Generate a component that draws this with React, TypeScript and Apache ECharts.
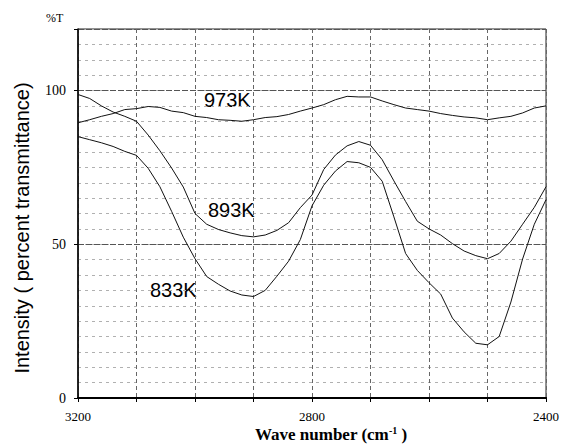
import React, { useEffect, useRef } from "react";
import * as echarts from "echarts";

const SERIF = '"Liberation Serif", "Times New Roman", serif';
const SANS = '"Liberation Sans", Arial, sans-serif';

// Wave numbers (cm^-1), every 20
const wavenumbers = [
  3200, 3180, 3160, 3140, 3120, 3100, 3080, 3060, 3040, 3020, 3000, 2980, 2960, 2940,
  2920, 2900, 2880, 2860, 2840, 2820, 2800, 2780, 2760, 2740, 2720, 2700, 2680, 2660,
  2640, 2620, 2600, 2580, 2560, 2540, 2520, 2500, 2480, 2460, 2440, 2420, 2400,
];

// %T values
const t973K = [
  89.5, 90.5, 91.6, 92.5, 93.8, 94.1, 94.8, 94.5, 93.3, 92.8, 91.6, 91.2, 90.5, 90.3,
  90.0, 90.5, 91.2, 91.5, 92.2, 93.3, 94.3, 95.4, 97.0, 98.1, 97.9, 97.9, 96.6, 95.4,
  94.3, 93.8, 93.3, 92.5, 91.9, 91.4, 91.1, 90.5, 91.1, 91.6, 92.7, 94.3, 95.0,
];
const t893K = [
  98.7, 97.4, 95.0, 93.0, 91.6, 90.0, 85.5, 80.4, 74.8, 68.6, 60.0, 56.5, 54.8, 53.7,
  52.8, 52.4, 53.0, 54.5, 57.0, 61.9, 66.0, 74.3, 79.0, 82.0, 83.4, 82.2, 77.5, 70.6,
  63.9, 57.5, 55.0, 53.0, 50.2, 47.8, 46.3, 45.3, 47.0, 51.0, 56.5, 62.0, 68.7,
];
const t833K = [
  85.0, 84.0, 83.0, 81.8, 80.2, 78.9, 74.7, 68.7, 60.7, 52.3, 45.3, 39.5, 37.0, 34.8,
  33.5, 33.0, 35.0, 39.6, 44.5, 51.5, 62.5, 69.2, 73.8, 76.9, 76.5, 75.0, 70.5, 58.9,
  47.0, 41.5, 37.5, 33.8, 26.0, 21.5, 17.8, 17.3, 20.0, 31.2, 45.2, 56.5, 64.5,
];

const xLabels = [3200, 2800, 2400];
const yLabels = [0, 50, 100];
const seriesNames = ["973K", "893K", "833K"];

export default function App() {
  const ref = useRef<HTMLDivElement>(null);

  useEffect(() => {
    if (!ref.current) return;
    const chart = echarts.init(ref.current, null, { renderer: "svg" });
    const toData = (vals: number[]) => wavenumbers.map((w, i) => [w, vals[i]]);
    const lineSeries = (name: string, vals: number[]) => ({
      name,
      type: "line",
      xAxisIndex: 0,
      yAxisIndex: 0,
      data: toData(vals),
      showSymbol: false,
      symbol: "none",
      lineStyle: { color: "#111", width: 1 },
      z: 5,
    });

    chart.setOption({
      animation: false,
      backgroundColor: "#fff",
      grid: {
        left: 78,
        right: 16,
        top: 29,
        bottom: 48,
        show: true,
        borderColor: "#222",
        borderWidth: 1,
        backgroundColor: "transparent",
      },
      xAxis: [
        {
          type: "value",
          min: 2400,
          max: 3200,
          interval: 100,
          inverse: true,
          axisLine: { show: true, onZero: false, lineStyle: { color: "#000", width: 2 } },
          axisTick: { show: true, length: 4, inside: false, lineStyle: { color: "#000", width: 1 } },
          axisLabel: {
            formatter: (v: number) => (xLabels.includes(v) ? String(v) : ""),
            fontFamily: SERIF,
            fontSize: 13,
            color: "#000",
            margin: 12,
            showMinLabel: true,
            showMaxLabel: true,
          },
          splitLine: { show: true, lineStyle: { color: "#666", type: [4, 3], width: 1 } },
        },
        {
          type: "value",
          position: "top",
          min: 2400,
          max: 3200,
          inverse: true,
          axisLine: { show: true, lineStyle: { color: "#000", width: 2 } },
          axisTick: { show: false },
          axisLabel: { show: false },
          splitLine: { show: false },
        },
      ],
      yAxis: [
        {
          type: "value",
          min: 0,
          max: 120,
          interval: 5,
          axisLine: { show: true, lineStyle: { color: "#000", width: 1.5 } },
          axisTick: { show: false },
          axisLabel: { show: false },
          splitLine: { show: true, lineStyle: { color: "#b0b0b0", type: [3, 4], width: 1 } },
        },
        {
          type: "value",
          position: "left",
          min: 0,
          max: 120,
          interval: 50,
          axisLine: { show: false },
          axisTick: { show: true, length: 4, lineStyle: { color: "#000" } },
          axisLabel: {
            formatter: (v: number) => (yLabels.includes(v) ? String(v) : ""),
            fontFamily: SERIF,
            fontSize: 14,
            color: "#000",
            margin: 12,
          },
          splitLine: { show: true, lineStyle: { color: "#555", type: [6, 2], width: 1 } },
        },
      ],
      series: [
        lineSeries(seriesNames[0], t973K),
        lineSeries(seriesNames[1], t893K),
        lineSeries(seriesNames[2], t833K),
      ],
      graphic: [
        {
          type: "text",
          left: 46,
          top: 12,
          style: { text: "%T", font: `12px ${SERIF}`, fill: "#000" },
        },
        {
          type: "text",
          x: 22,
          y: 228,
          rotation: Math.PI / 2,
          style: {
            text: "Intensity ( percent transmittance)",
            font: `20px ${SANS}`,
            fill: "#000",
            textAlign: "center",
            textVerticalAlign: "middle",
          },
        },
        {
          type: "text",
          x: 331,
          y: 434,
          style: {
            text: "Wave number (cm{sup|-1} )",
            font: `bold 17px ${SERIF}`,
            fill: "#000",
            textAlign: "center",
            textVerticalAlign: "middle",
            rich: {
              sup: {
                font: `bold 10px ${SERIF}`,
                fill: "#000",
                verticalAlign: "top",
                padding: [0, 0, 8, 0],
              },
            },
          },
        },
        {
          type: "text",
          x: 204,
          y: 100,
          style: { text: seriesNames[0], font: `20px ${SANS}`, fill: "#000", textVerticalAlign: "middle" },
        },
        {
          type: "text",
          x: 208,
          y: 210,
          style: { text: seriesNames[1], font: `20px ${SANS}`, fill: "#000", textVerticalAlign: "middle" },
        },
        {
          type: "text",
          x: 150,
          y: 290,
          style: { text: seriesNames[2], font: `20px ${SANS}`, fill: "#000", textVerticalAlign: "middle" },
        },
      ],
    });
    return () => chart.dispose();
  }, []);

  return (
    <div
      ref={ref}
      style={{ position: "fixed", left: 0, top: 0, width: 562, height: 446, background: "#fff" }}
    />
  );
}
